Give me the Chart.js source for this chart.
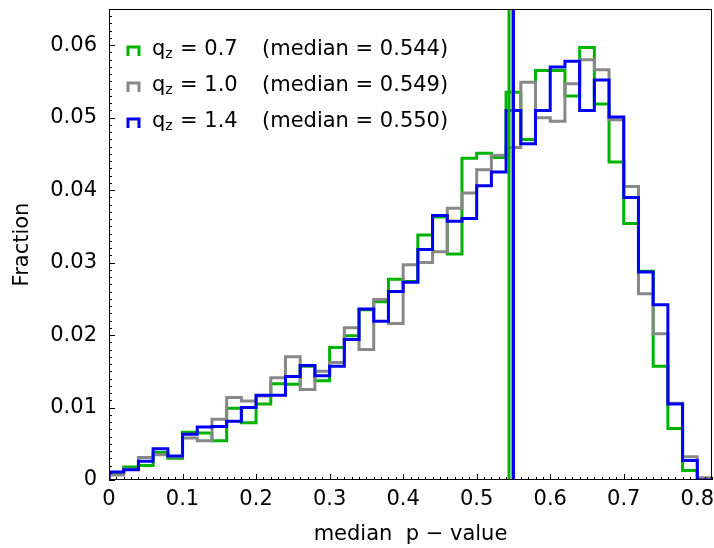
<!DOCTYPE html>
<html>
<head>
<meta charset="utf-8">
<script src="https://cdn.jsdelivr.net/npm/chart.js@4.4.0/dist/chart.umd.min.js"></script>
<style>
  html, body { margin: 0; padding: 0; background: #fff; }
</style>
</head>
<body>
<canvas id="histChart" width="714" height="548"></canvas>
<script>
// bin edges of the histograms (41 bins, width 0.02)
const binEdges = [0.00, 0.02, 0.04, 0.06, 0.08, 0.10, 0.12, 0.14, 0.16, 0.18,
                  0.20, 0.22, 0.24, 0.26, 0.28, 0.30, 0.32, 0.34, 0.36, 0.38,
                  0.40, 0.42, 0.44, 0.46, 0.48, 0.50, 0.52, 0.54, 0.56, 0.58,
                  0.60, 0.62, 0.64, 0.66, 0.68, 0.70, 0.72, 0.74, 0.76, 0.78,
                  0.80, 0.82];

// fraction per bin
const greenValues = [0.0010, 0.0018, 0.0020, 0.0038, 0.0030, 0.0066, 0.0065, 0.0054, 0.0099, 0.0079,
                     0.0105, 0.0133, 0.0132, 0.0157, 0.0137, 0.0183, 0.0199, 0.0235, 0.0246, 0.0277,
                     0.0274, 0.0338, 0.0363, 0.0312, 0.0444, 0.0451, 0.0445, 0.0535, 0.0470, 0.0565,
                     0.0565, 0.0530, 0.0597, 0.0519, 0.0439, 0.0354, 0.0288, 0.0157, 0.0071, 0.0013,
                     0.0000];
const grayValues  = [0.0007, 0.0015, 0.0031, 0.0035, 0.0032, 0.0058, 0.0054, 0.0084, 0.0114, 0.0109,
                     0.0116, 0.0141, 0.0170, 0.0125, 0.0150, 0.0162, 0.0210, 0.0180, 0.0249, 0.0216,
                     0.0297, 0.0300, 0.0315, 0.0375, 0.0396, 0.0428, 0.0448, 0.0459, 0.0549, 0.0500,
                     0.0495, 0.0547, 0.0580, 0.0566, 0.0497, 0.0405, 0.0257, 0.0202, 0.0106, 0.0032,
                     0.0003];
const blueValues  = [0.0011, 0.0014, 0.0026, 0.0043, 0.0033, 0.0063, 0.0073, 0.0074, 0.0081, 0.0100,
                     0.0117, 0.0117, 0.0143, 0.0158, 0.0144, 0.0157, 0.0194, 0.0236, 0.0219, 0.0260,
                     0.0273, 0.0318, 0.0365, 0.0357, 0.0361, 0.0406, 0.0425, 0.0510, 0.0464, 0.0510,
                     0.0570, 0.0578, 0.0510, 0.0552, 0.0501, 0.0390, 0.0287, 0.0242, 0.0105, 0.0027,
                     0.0000];

const qzLabels = ['0.7', '1.0', '1.4'];
const medians = [0.544, 0.549, 0.550];
const colors = ['#00b300', '#888888', '#0000f0'];

const xTickValues = [0, 0.1, 0.2, 0.3, 0.4, 0.5, 0.6, 0.7, 0.8];
const xTickLabels = ['0', '0.1', '0.2', '0.3', '0.4', '0.5', '0.6', '0.7', '0.8'];
const yTickValues = [0, 0.01, 0.02, 0.03, 0.04, 0.05, 0.06];
const yTickLabels = ['0', '0.01', '0.02', '0.03', '0.04', '0.05', '0.06'];

const FONT = '"DejaVu Sans", sans-serif';

// step outline: up at first edge, across each bin, down at last edge
function stepPoints(values) {
    const pts = [{x: binEdges[0], y: 0}];
    values.forEach((v, i) => pts.push({x: binEdges[i], y: v}));
    pts.push({x: binEdges[values.length], y: 0});
    return pts;
}

function histDataset(values, i) {
    return {
        data: stepPoints(values),
        stepped: 'before',
        borderColor: colors[i],
        borderWidth: 3,
        pointRadius: 0,
        fill: false,
        order: 3 - i
    };
}

function medianDataset(i) {
    return {
        data: [{x: medians[i], y: 0}, {x: medians[i], y: 0.065}],
        borderColor: colors[i],
        borderWidth: 3,
        pointRadius: 0,
        fill: false,
        order: -i
    };
}

// frame, inward ticks and the legend
const decorations = {
    id: 'decorations',
    afterDraw(chart) {
        const {ctx, chartArea: a, scales: {x, y}} = chart;
        ctx.save();
        ctx.strokeStyle = '#000';
        ctx.lineWidth = 1;
        ctx.beginPath();
        for (let k = 0; k <= 82; k++) {
            const px = Math.round(x.getPixelForValue(k / 100)) + 0.5;
            const len = k % 10 === 0 ? 6 : 3;
            ctx.moveTo(px, a.bottom);
            ctx.lineTo(px, a.bottom - len);
        }
        for (let k = 0; k <= 65; k++) {
            const py = Math.round(y.getPixelForValue(k / 1000)) + 0.5;
            const len = k % 10 === 0 ? 6 : 3;
            ctx.moveTo(a.left, py);
            ctx.lineTo(a.left + len, py);
        }
        ctx.stroke();
        ctx.strokeRect(a.left + 0.5, a.top + 0.5, a.width - 1, a.height - 1);

        // legend
        ctx.textBaseline = 'alphabetic';
        qzLabels.forEach((q, i) => {
            const base = a.top + 46 + i * 36;
            const hx = a.left + 19;
            ctx.strokeStyle = colors[i];
            ctx.lineWidth = 3;
            ctx.beginPath();
            ctx.moveTo(hx, base + 1);
            ctx.lineTo(hx, base - 8);
            ctx.lineTo(hx + 11, base - 8);
            ctx.lineTo(hx + 11, base + 1);
            ctx.stroke();

            ctx.fillStyle = '#000';
            let tx = a.left + 43;
            ctx.font = '21px ' + FONT;
            ctx.fillText('q', tx, base);
            tx += ctx.measureText('q').width;
            ctx.font = '14px ' + FONT;
            ctx.fillText('z', tx, base + 3);
            ctx.font = '21px ' + FONT;
            ctx.fillText('= ' + q, a.left + 71, base);
            ctx.fillText('(median = ' + medians[i].toFixed(3) + ')', a.left + 153, base);
        });
        ctx.restore();
    }
};

new Chart(document.getElementById('histChart'), {
    type: 'line',
    data: {
        datasets: [
            histDataset(greenValues, 0),
            histDataset(grayValues, 1),
            histDataset(blueValues, 2),
            medianDataset(0),
            medianDataset(1),
            medianDataset(2)
        ]
    },
    options: {
        responsive: false,
        animation: false,
        layout: {padding: {top: 9, right: 2, left: 0, bottom: 0}},
        plugins: {legend: {display: false}, tooltip: {enabled: false}},
        scales: {
            x: {
                type: 'linear',
                min: 0,
                max: 0.82,
                afterBuildTicks: s => { s.ticks = xTickValues.map(v => ({value: v})); },
                afterFit: s => { s.height = 68; s.paddingLeft = 0; s.paddingRight = 0; },
                ticks: {
                    callback: (v, i) => xTickLabels[i],
                    color: '#000',
                    font: {family: FONT, size: 21},
                    padding: 7,
                    maxRotation: 0
                },
                grid: {display: false, drawTicks: false},
                border: {display: false},
                title: {
                    display: true,
                    text: 'median  p − value',
                    color: '#000',
                    font: {family: FONT, size: 21},
                    padding: {top: 0, bottom: 1}
                }
            },
            y: {
                min: 0,
                max: 0.065,
                afterBuildTicks: s => { s.ticks = yTickValues.map(v => ({value: v})); },
                afterFit: s => { s.width = 109; s.paddingTop = 0; s.paddingBottom = 0; },
                ticks: {
                    callback: (v, i) => yTickLabels[i],
                    color: '#000',
                    font: {family: FONT, size: 21},
                    padding: 12
                },
                grid: {display: false, drawTicks: false},
                border: {display: false},
                title: {
                    display: true,
                    text: 'Fraction',
                    color: '#000',
                    font: {family: FONT, size: 21},
                    padding: {top: 10, bottom: 0}
                }
            }
        }
    },
    plugins: [decorations]
});
</script>
</body>
</html>
